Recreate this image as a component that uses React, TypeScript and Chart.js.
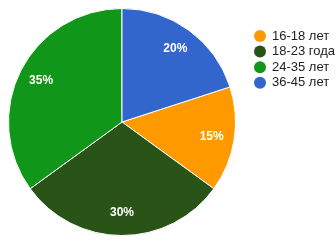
import React, { useEffect, useRef } from "react";
import { Chart, registerables } from "chart.js";

Chart.register(...registerables);

const categories = ["16-18 лет", "18-23 года", "24-35 лет", "36-45 лет"];
const values = [15, 30, 35, 20];
const colors = ["#ff9900", "#2a5317", "#109618", "#3366cc"];

const sliceLabels = {
  id: "sliceLabels",
  afterDatasetsDraw(chart: any) {
    const ctx = chart.ctx;
    const meta = chart.getDatasetMeta(0);
    const total = values.reduce((a, b) => a + b, 0);
    ctx.save();
    ctx.font = "bold 12px Arial, 'Liberation Sans', sans-serif";
    ctx.fillStyle = "#ffffff";
    ctx.textAlign = "center";
    ctx.textBaseline = "middle";
    meta.data.forEach((arc: any, i: number) => {
      const { x, y, startAngle, endAngle, outerRadius } = arc.getProps(
        ["x", "y", "startAngle", "endAngle", "outerRadius"],
        true
      );
      const mid = (startAngle + endAngle) / 2;
      const r = outerRadius * 0.8;
      const pct = Math.round((values[i] / total) * 100) + "%";
      ctx.fillText(pct, x + Math.cos(mid) * r, y + Math.sin(mid) * r);
    });
    ctx.restore();
  },
};

const sideLegend = {
  id: "sideLegend",
  afterDraw(chart: any) {
    const ctx = chart.ctx;
    ctx.save();
    ctx.font = "13px Arial, 'Liberation Sans', sans-serif";
    ctx.textAlign = "left";
    ctx.textBaseline = "middle";
    const x0 = 260;
    const y0 = 36;
    const step = 15.6;
    categories.forEach((c, i) => {
      const y = y0 + i * step;
      ctx.beginPath();
      ctx.arc(x0, y, 6, 0, Math.PI * 2);
      ctx.fillStyle = colors[i];
      ctx.fill();
      ctx.fillStyle = "#222222";
      ctx.fillText(c, x0 + 12, y);
    });
    ctx.restore();
  },
};

export default function App() {
  const ref = useRef<HTMLCanvasElement>(null);
  useEffect(() => {
    document.body.style.margin = "0";
    const chart = new Chart(ref.current!, {
      type: "pie",
      data: {
        labels: categories,
        datasets: [
          {
            data: values,
            backgroundColor: colors,
            borderColor: "#ffffff",
            borderWidth: 1,
          },
        ],
      },
      options: {
        responsive: false,
        animation: false,
        rotation: 72,
        layout: { padding: { left: 8, top: 8, right: 100, bottom: 5 } },
        plugins: {
          legend: { display: false },
          tooltip: { enabled: false },
        },
      },
      plugins: [sliceLabels, sideLegend],
    });
    return () => chart.destroy();
  }, []);
  return (
    <div style={{ width: 336, height: 241, background: "#fff" }}>
      <canvas ref={ref} width={336} height={241} />
    </div>
  );
}
